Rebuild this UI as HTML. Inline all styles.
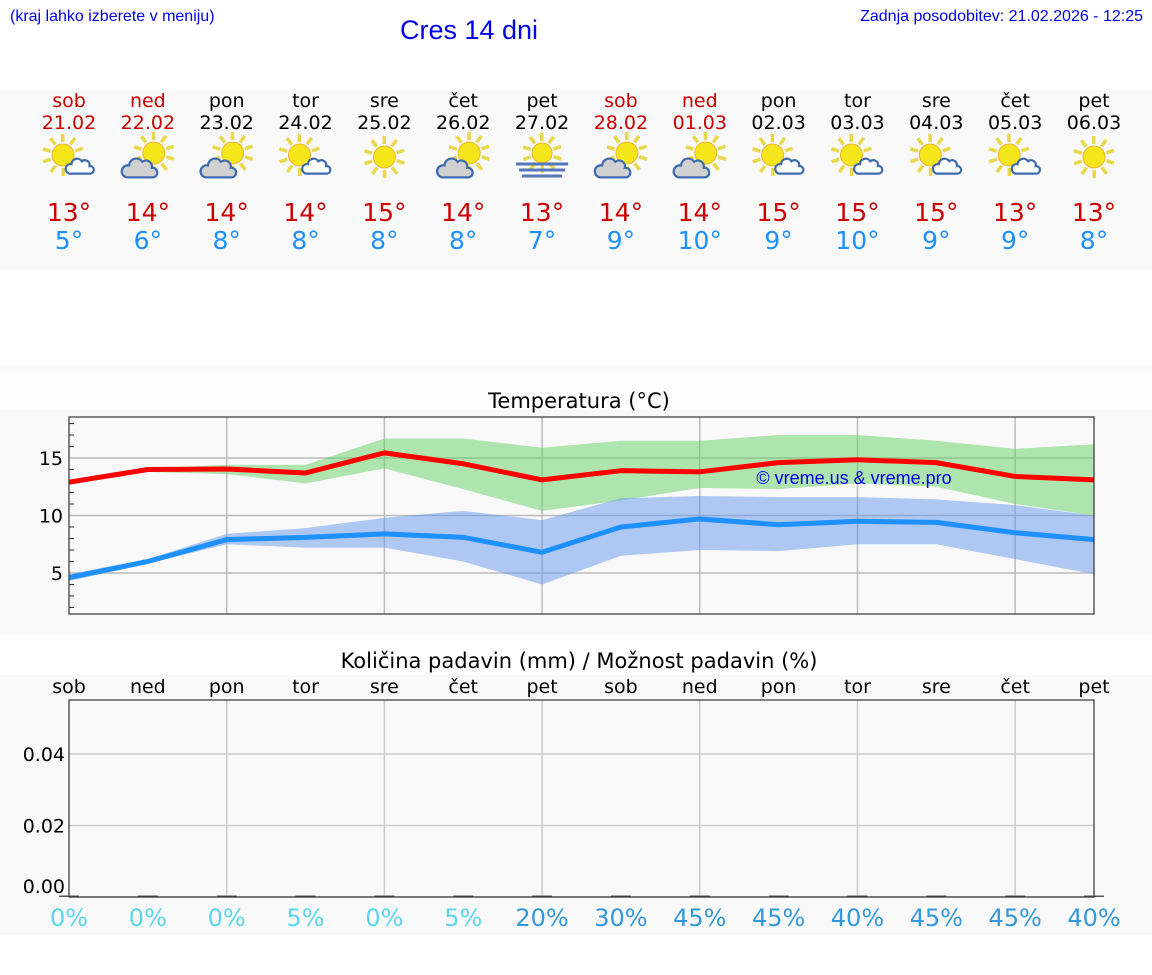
<!DOCTYPE html>
<html><head><meta charset="utf-8"><style>
body{margin:0;width:1152px;height:975px;background:#fff;overflow:hidden}
svg{display:block}
text{font-family:"DejaVu Sans",sans-serif}
.lib{font-family:"Liberation Sans",sans-serif}
</style></head><body>
<svg id="s" width="1152" height="975" xmlns="http://www.w3.org/2000/svg">
<rect x="0" y="90" width="1152" height="180" fill="#f9f9f9"/>
<rect x="0" y="365" width="1152" height="5" fill="#f9f9f9"/>
<rect x="0" y="370" width="1152" height="40" fill="#fdfdfd"/>
<rect x="0" y="410" width="1152" height="225" fill="#f9f9f9"/>
<rect x="0" y="675" width="1152" height="260" fill="#f9f9f9"/>
<text class="lib" x="10" y="21" font-size="16" fill="#0000ee">(kraj lahko izberete v meniju)</text>
<text class="lib" x="469" y="39" font-size="27" fill="#0000ee" text-anchor="middle">Cres 14 dni</text>
<text class="lib" x="1143" y="21" font-size="16" fill="#0000ee" text-anchor="end">Zadnja posodobitev: 21.02.2026 - 12:25</text>
<text x="579" y="408" font-size="21" text-anchor="middle" fill="#000">Temperatura (°C)</text>
<text x="579" y="668" font-size="21" text-anchor="middle" fill="#000">Količina padavin (mm) / Možnost padavin (%)</text>
<g id="days"></g>
<g id="temp"></g>
<g id="prec"></g>
</svg>
<script>
const dayNames=["sob","ned","pon","tor","sre","čet","pet","sob","ned","pon","tor","sre","čet","pet"];
const dates=["21.02","22.02","23.02","24.02","25.02","26.02","27.02","28.02","01.03","02.03","03.03","04.03","05.03","06.03"];
const weekend=[1,1,0,0,0,0,0,1,1,0,0,0,0,0];
const icons=["sc","cl","cl","sc","s","cl","f","cl","cl","sc","sc","sc","sc","s"];
const hiLabel=[13,14,14,14,15,14,13,14,14,15,15,15,13,13];
const loLabel=[5,6,8,8,8,8,7,9,10,9,10,9,9,8];
const tMax=[12.9,14.0,14.05,13.7,15.45,14.5,13.1,13.9,13.8,14.6,14.85,14.6,13.4,13.1];
const tMaxHi=[13.1,14.1,14.4,14.4,16.7,16.7,15.9,16.5,16.5,17.0,17.0,16.5,15.8,16.2];
const tMaxLo=[12.7,13.8,13.6,12.8,14.1,12.3,10.4,11.3,12.4,12.3,12.8,12.5,11.0,10.0];
const tMin=[4.6,6.0,7.9,8.1,8.4,8.1,6.8,9.0,9.7,9.2,9.5,9.4,8.5,7.9];
const tMinHi=[4.9,6.2,8.4,8.9,9.8,10.4,9.6,11.5,11.7,11.6,11.6,11.4,10.9,10.0];
const tMinLo=[4.3,5.8,7.5,7.2,7.2,6.0,4.0,6.5,7.0,6.9,7.5,7.5,6.2,4.9];
const tTicks=[5,10,15];
const precip=[0,0,0,0,0,0,0,0,0,0,0,0,0,0];
const pTicks=[0,0.02,0.04];
const chance=[0,0,0,5,0,5,20,30,45,45,40,45,45,40];
const NS="http://www.w3.org/2000/svg";
function mk(p,tag,a,txt){const e=document.createElementNS(NS,tag);for(const k in a)e.setAttribute(k,a[k]);if(txt!=null)e.textContent=txt;p.appendChild(e);return e;}
const X0=69,X1=1094;const xs=i=>X0+i*(X1-X0)/13;
const D=document.getElementById('days');
function sun(g,cx,cy,r){for(let k=0;k<10;k++){const a=k*Math.PI/5+0.3;mk(g,'line',{x1:cx+Math.cos(a)*(r+2),y1:cy+Math.sin(a)*(r+2),x2:cx+Math.cos(a)*(r+10),y2:cy+Math.sin(a)*(r+10),stroke:'#e8d84a','stroke-width':3.5});}
mk(g,'circle',{cx:cx,cy:cy,r:r,fill:'#f5e61c',stroke:'#f0b030','stroke-width':1});}
function cloud(g,cx,cy,s,fill){mk(g,'path',{d:`M${cx-11*s} ${cy+7*s} a${5*s} ${5*s} 0 0 1 ${2*s} ${-10*s} a${6*s} ${6*s} 0 0 1 ${11*s} ${-3*s} a${5*s} ${5*s} 0 0 1 ${8*s} ${5*s} a${4*s} ${4*s} 0 0 1 ${1*s} ${8*s} Z`,fill:fill,stroke:'#3d6bb0','stroke-width':2.2});}
dayNames.forEach((d,i)=>{const x=xs(i);const c=weekend[i]?'#cc0000':'#000';
 const g=mk(D,'g',{});
 mk(g,'text',{x:x,y:107,'font-size':19,'text-anchor':'middle',fill:c},d);
 mk(g,'text',{x:x,y:129,'font-size':19,'text-anchor':'middle',fill:c},dates[i]);
 const ic=mk(g,'g',{});
 const t=icons[i];
 if(t==='sc'){sun(ic,x-6,155,11);cloud(ic,x+11,167,0.95,'#fff');}
 else if(t==='cl'){sun(ic,x+6,153,11);cloud(ic,x-8,169,1.2,'#d0d0d0');}
 else if(t==='s'){sun(ic,x,157,11);}
 else {sun(ic,x,153,10);[164,170,176].forEach((yy,k)=>mk(ic,'rect',{x:x-26+k*3,y:yy-1.5,width:52-k*6,height:3,fill:'#5577bb'}));}
 mk(g,'text',{x:x,y:221,'font-size':25,'text-anchor':'middle',fill:'#cc0000'},hiLabel[i]+'°');
 mk(g,'text',{x:x,y:249,'font-size':25,'text-anchor':'middle',fill:'#1e90ff'},loLabel[i]+'°');
});
const T=document.getElementById('temp');const TY0=417,TY1=614,TMIN=1.43,TMAX=18.57;
const ty=v=>TY1-(v-TMIN)/(TMAX-TMIN)*(TY1-TY0);
for(let v=2;v<=18;v++){mk(T,'line',{x1:X0,x2:X0+5,y1:ty(v),y2:ty(v),stroke:'#333','stroke-width':1});}
tTicks.forEach(v=>{mk(T,'line',{x1:X0,x2:X1,y1:ty(v),y2:ty(v),stroke:'#bbb','stroke-width':1.5});
 const tx=mk(T,'text',{x:X0-6,y:ty(v)+7,'font-size':19,'text-anchor':'end',fill:'#000'},String(v));});
for(let i=2;i<13;i+=2)mk(T,'line',{x1:xs(i),x2:xs(i),y1:TY0,y2:TY1,stroke:'#bbb','stroke-width':1.5});
function band(hi,lo,fill,name){let d='M';hi.forEach((v,i)=>d+=xs(i)+' '+ty(v)+' L');for(let i=lo.length-1;i>=0;i--)d+=xs(i)+' '+ty(lo[i])+(i?' L':' Z');const p=mk(T,'path',{d:d,fill:fill});}
band(tMaxHi,tMaxLo,'rgba(100,210,100,0.5)','max-temp-range');
band(tMinHi,tMinLo,'rgba(100,149,237,0.5)','min-temp-range');
function line(v,col,name){const p=mk(T,'polyline',{points:v.map((a,i)=>xs(i)+','+ty(a)).join(' '),fill:'none',stroke:col,'stroke-width':5,'stroke-linejoin':'round'});}
line(tMax,'#ff0000','max-temp-line');line(tMin,'#1e90ff','min-temp-line');
const wm=mk(T,'text',{x:854,y:484,'font-size':18,'text-anchor':'middle',fill:'#0000ee',class:'lib'},'© vreme.us & vreme.pro');
mk(T,'rect',{x:X0,y:TY0,width:X1-X0,height:TY1-TY0,fill:'none',stroke:'#333','stroke-width':1.2});
const P=document.getElementById('prec');const PY0=700,PY1=897;const py=v=>PY1-v/0.02*71.5;
pTicks.forEach(v=>{mk(P,'line',{x1:X0,x2:X1,y1:py(v),y2:py(v),stroke:'#ccc','stroke-width':1.5});
 const tx=mk(P,'text',{x:X0-4,y:(v===0?886:py(v))+7,'font-size':19,'text-anchor':'end',fill:'#000'},v.toFixed(2));});
for(let i=2;i<13;i+=2)mk(P,'line',{x1:xs(i),x2:xs(i),y1:PY0,y2:PY1,stroke:'#ccc','stroke-width':1.5});
precip.forEach((v,i)=>{const r=mk(P,'rect',{x:xs(i)-10,y:py(v)-1.5,width:20,height:Math.max(1.5,PY1-py(v)+1.5),fill:'#555'});});
mk(P,'rect',{x:X0,y:PY0,width:X1-X0,height:PY1-PY0,fill:'none',stroke:'#333','stroke-width':1.2});
dayNames.forEach((d,i)=>{const t=mk(P,'text',{x:xs(i),y:693,'font-size':19,'text-anchor':'middle',fill:'#000'},d);
 const c=mk(P,'text',{x:xs(i),y:926,'font-size':24,'text-anchor':'middle',fill:chance[i]>=20?'#3399dd':'#5cd6ee'},chance[i]+'%');});
</script>
</body></html>
